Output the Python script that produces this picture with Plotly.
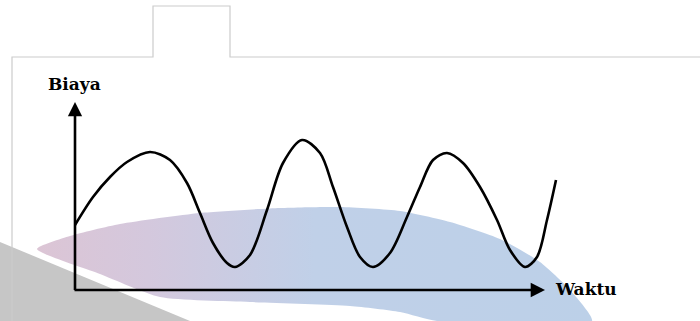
import plotly.graph_objects as go

# ---- data (time vs cost, arbitrary units) ----
waktu = [0, 1.8, 3.5, 5.2, 7.5, 9.5, 11.2, 12.5, 13.8, 15.2, 16.0, 17.5, 19.2, 20.8,
         22.7, 24.5, 25.8, 27.2, 28.5, 29.8, 31.5, 33.2, 34.5, 35.8, 37.2, 38.8,
         40.5, 42.2, 43.5, 45.0, 46.2, 47.2, 48.1]
biaya = [6.5, 9.3, 11.3, 12.8, 13.8, 13.0, 10.7, 7.7, 4.7, 2.7, 2.3, 3.5, 8.0, 12.7,
         15.0, 13.7, 10.3, 6.3, 3.3, 2.3, 3.7, 7.3, 10.3, 13.0, 13.7, 12.7,
         10.3, 7.0, 4.0, 2.3, 3.3, 7.0, 11.0]
x_label = "Waktu"
y_label = "Biaya"
x_axis_end = 47.0
y_axis_end = 18.8

fig = go.Figure()

# ---- decorative background (scan watermark), on pixel-like base axes ----
cres_x = [37, 70, 120, 200, 280, 340, 400, 450, 500, 540, 570, 592,
          437, 400, 350, 250, 160, 100, 37]
cres_y = [249, 236, 224, 213, 208, 207, 211, 222, 239, 262, 290, 321,
          321, 312, 306, 302, 297, 274, 249]
fig.add_trace(go.Scatter(
    x=cres_x, y=cres_y, mode="lines", fill="toself",
    line=dict(width=0, shape="spline", smoothing=0.6),
    fillgradient=dict(type="horizontal",
                      colorscale=[[0, "rgb(220,197,213)"], [0.2, "rgb(212,200,221)"],
                                  [0.5, "rgb(192,208,232)"], [1, "rgb(188,208,232)"]]),
    hoverinfo="skip", showlegend=False, xaxis="x", yaxis="y"))

shapes = [
    dict(type="path", path="M0,242 L190,321 L0,321 Z", xref="x", yref="y",
         fillcolor="rgb(198,198,198)", line=dict(width=0), layer="below"),
    dict(type="path", path="M12,321 L12,57 L153,57 L153,6 L230,6 L230,57 L700,57",
         xref="x", yref="y", line=dict(color="rgb(204,204,204)", width=1.2), layer="below"),
]

# ---- the cost curve ----
fig.add_trace(go.Scatter(
    x=waktu, y=biaya, mode="lines",
    line=dict(color="black", width=2.6, shape="spline", smoothing=0.9),
    hoverinfo="skip", showlegend=False, xaxis="x2", yaxis="y2"))

annotations = [
    # axes arrows
    dict(x=x_axis_end, y=0, ax=-0.2, ay=0, xref="x2", yref="y2", axref="x2", ayref="y2",
         text="", showarrow=True, arrowhead=2, arrowsize=1.1, arrowwidth=2.6,
         arrowcolor="black", standoff=0),
    dict(x=0, y=y_axis_end, ax=0, ay=-0.15, xref="x2", yref="y2", axref="x2", ayref="y2",
         text="", showarrow=True, arrowhead=2, arrowsize=1.1, arrowwidth=2.6,
         arrowcolor="black", standoff=0),
    dict(x=-0.1, y=20.6, xref="x2", yref="y2", text="<b>%s</b>" % y_label, showarrow=False,
         font=dict(family="DejaVu Serif", size=17, color="black"),
         xanchor="center", yanchor="middle"),
    dict(x=47.8, y=0.1, xref="x2", yref="y2", text="<b>%s</b>" % x_label, showarrow=False,
         font=dict(family="DejaVu Serif", size=17, color="black"),
         xanchor="left", yanchor="middle"),
]

fig.update_layout(
    width=700, height=321,
    margin=dict(l=0, r=0, t=0, b=0),
    paper_bgcolor="white", plot_bgcolor="white",
    shapes=shapes, annotations=annotations, showlegend=False,
    xaxis=dict(range=[0, 700], visible=False, domain=[0, 1]),
    yaxis=dict(range=[321, 0], visible=False, domain=[0, 1]),
    xaxis2=dict(range=[-7.5, 62.5], visible=False, overlaying="x"),
    yaxis2=dict(range=[-3.1, 29.0], visible=False, overlaying="y"),
)

fig.write_html("out.html", config={"displayModeBar": False},
               post_script="document.body.style.margin='0';document.body.style.overflow='hidden';")
